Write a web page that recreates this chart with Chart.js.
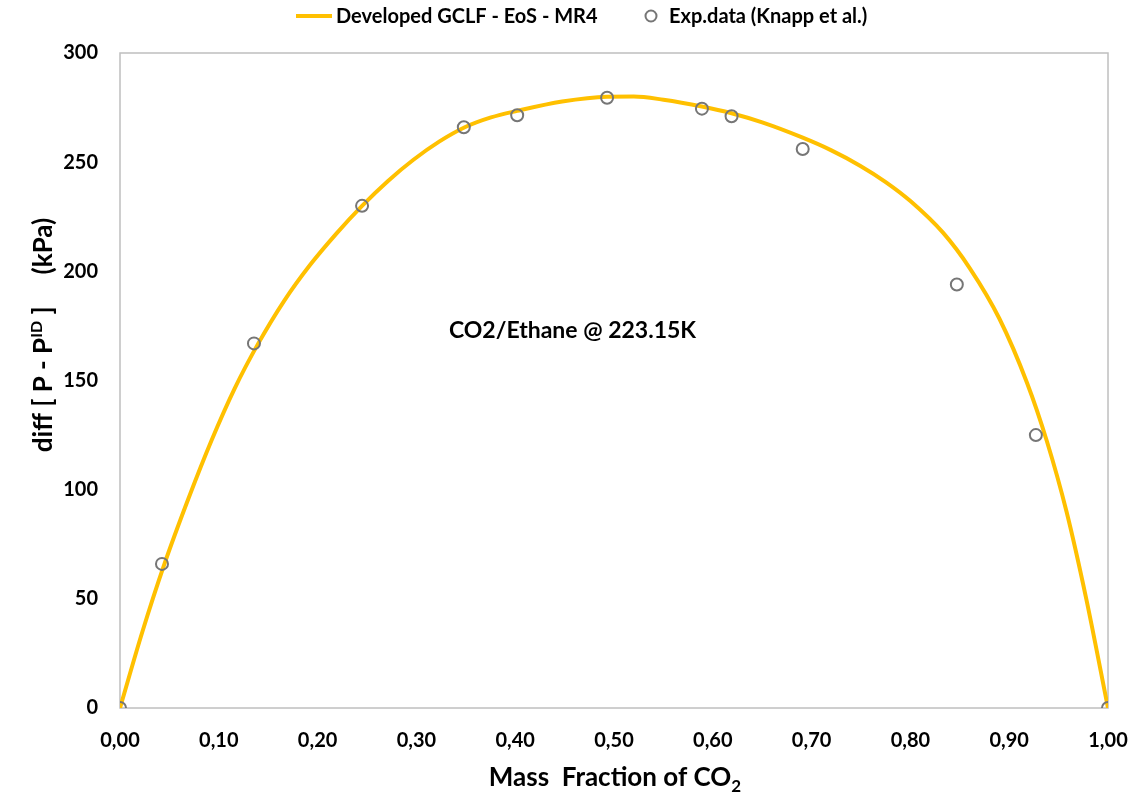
<!DOCTYPE html>
<html>
<head>
<meta charset="utf-8">
<script src="https://cdn.jsdelivr.net/npm/chart.js@4.4.1/dist/chart.umd.min.js"></script>
<style>
  html, body { margin: 0; padding: 0; background: #fff; }
  #wrap { width: 1137px; height: 796px; }
</style>
</head>
<body>
<div id="wrap"><canvas id="grafik" width="1137" height="796"></canvas></div>
<script>
// kurva model (GCLF - EoS - MR4)
const modelX = [0, 0.0225, 0.045, 0.069, 0.0925, 0.116, 0.14, 0.166, 0.1925, 0.219, 0.245, 0.271, 0.297, 0.323, 0.349, 0.3755, 0.402, 0.4475, 0.493,
                0.52, 0.55, 0.589, 0.619, 0.65, 0.691, 0.72, 0.749, 0.775, 0.80, 0.833, 0.86, 0.89, 0.918, 0.938, 0.958, 0.978, 1.0];
const modelY = [0, 34.7, 66, 95.6, 122.4, 146.3, 167, 186.4, 203, 217.3, 230, 241.3, 251.1, 259.4, 266, 270.5, 273.5, 277.8, 280,
                280.1, 278.6, 275.5, 272.4, 268.2, 261.2, 255.4, 248.4, 240.9, 232.2, 217.7, 201.5, 178.4, 149, 122.4, 90, 50, 0];

// data eksperimen (Knapp et al.)
const expX = [0, 0.0425, 0.1356, 0.245, 0.348, 0.402, 0.493, 0.589, 0.619, 0.691, 0.847, 0.927, 1.0];
const expY = [0, 66, 167, 230, 266, 271.5, 279.5, 274.5, 271, 256, 194, 125, 0];

const xTicks = [0, 0.1, 0.2, 0.3, 0.4, 0.5, 0.6, 0.7, 0.8, 0.9, 1.0];
const yTicks = [0, 50, 100, 150, 200, 250, 300];

const labelModel = 'Developed GCLF - EoS - MR4';
const labelExp = 'Exp.data (Knapp et al.)';
const catatan = 'CO2/Ethane @ 223.15K';

const FONT = 'Lato, "Open Sans", sans-serif';

// gambar bagian teks dengan sub/superscript
function drawParts(ctx, parts, x, y, align) {
    let total = 0;
    parts.forEach(p => {
        ctx.font = 'bold ' + (p.size || 10) + 'px ' + FONT;
        p.w = p.gap || ctx.measureText(p.text).width;
        total += p.w;
    });
    let cx = align === 'center' ? x - total / 2 : x;
    parts.forEach(p => {
        if (!p.gap) {
            ctx.font = 'bold ' + p.size + 'px ' + FONT;
            ctx.fillText(p.text, cx, y + (p.dy || 0));
        }
        cx += p.w;
    });
}

const hiasan = {
    id: 'hiasan',
    beforeDatasetsDraw(chart) {
        const { ctx, chartArea: a } = chart;
        ctx.save();
        ctx.strokeStyle = '#bfbfbf';
        ctx.lineWidth = 1.5;
        ctx.strokeRect(a.left, a.top, a.right - a.left, a.bottom - a.top);
        ctx.restore();
    },
    afterDraw(chart) {
        const { ctx, scales } = chart;
        ctx.save();
        ctx.fillStyle = '#000';
        ctx.textBaseline = 'alphabetic';

        // legenda
        ctx.strokeStyle = '#FFC000';
        ctx.lineWidth = 4;
        ctx.beginPath();
        ctx.moveTo(296, 16);
        ctx.lineTo(332, 16);
        ctx.stroke();
        ctx.font = 'bold 20px ' + FONT;
        ctx.textAlign = 'left';
        ctx.fillText(labelModel, 336, 23);
        ctx.strokeStyle = '#767676';
        ctx.lineWidth = 2;
        ctx.beginPath();
        ctx.arc(651, 16, 5.5, 0, Math.PI * 2);
        ctx.stroke();
        ctx.fillText(labelExp, 669, 23);

        // catatan di tengah
        ctx.font = 'bold 23px ' + FONT;
        ctx.textAlign = 'center';
        ctx.fillText(catatan, scales.x.getPixelForValue(0.458), scales.y.getPixelForValue(173) + 8);

        // judul sumbu x
        ctx.textAlign = 'left';
        drawParts(ctx, [
            { text: 'Mass  Fraction of CO', size: 26 },
            { text: '2', size: 17, dy: 6 }
        ], 615, 786, 'center');

        // judul sumbu y
        ctx.translate(52, 335);
        ctx.rotate(-Math.PI / 2);
        drawParts(ctx, [
            { text: 'diff [ P - P', size: 26 },
            { text: 'ID', size: 16, dy: -10 },
            { text: ' ]', size: 26 },
            { gap: 32 },
            { text: '(kPa)', size: 26 }
        ], 0, 0, 'center');
        ctx.restore();
    }
};

const ctx = document.getElementById('grafik').getContext('2d');
new Chart(ctx, {
    type: 'scatter',
    data: {
        datasets: [
            {
                label: labelExp,
                data: expX.map((x, i) => ({ x: x, y: expY[i] })),
                pointRadius: 6,
                pointBorderWidth: 2,
                pointBorderColor: '#767676',
                pointBackgroundColor: 'rgba(0,0,0,0)',
                showLine: false,
                order: 0
            },
            {
                label: labelModel,
                data: modelX.map((x, i) => ({ x: x, y: modelY[i] })),
                showLine: true,
                borderColor: '#FFC000',
                borderWidth: 4,
                pointRadius: 0,
                cubicInterpolationMode: 'monotone',
                order: 1
            }
        ]
    },
    options: {
        responsive: false,
        animation: false,
        layout: { padding: { left: 0, top: 53, right: 29, bottom: 0 } },
        plugins: {
            legend: { display: false },
            tooltip: { enabled: false }
        },
        scales: {
            x: {
                type: 'linear',
                min: 0,
                max: 1,
                afterFit: s => { s.height = 88; s.paddingLeft = 0; s.paddingRight = 0; },
                afterBuildTicks: s => { s.ticks = xTicks.map(v => ({ value: v })); },
                grid: { display: false, drawTicks: false },
                border: { display: false },
                ticks: {
                    padding: 21,
                    color: '#000',
                    font: { family: FONT, size: 20, weight: 'bold' },
                    callback: v => v.toFixed(2).replace('.', ',')
                }
            },
            y: {
                type: 'linear',
                min: 0,
                max: 300,
                afterFit: s => { s.width = 120; s.paddingTop = 0; s.paddingBottom = 0; },
                afterBuildTicks: s => { s.ticks = yTicks.map(v => ({ value: v })); },
                grid: { display: false, drawTicks: false },
                border: { display: false },
                ticks: {
                    padding: 22,
                    color: '#000',
                    font: { family: FONT, size: 20, weight: 'bold' }
                }
            }
        }
    },
    plugins: [hiasan]
});
</script>
</body>
</html>
